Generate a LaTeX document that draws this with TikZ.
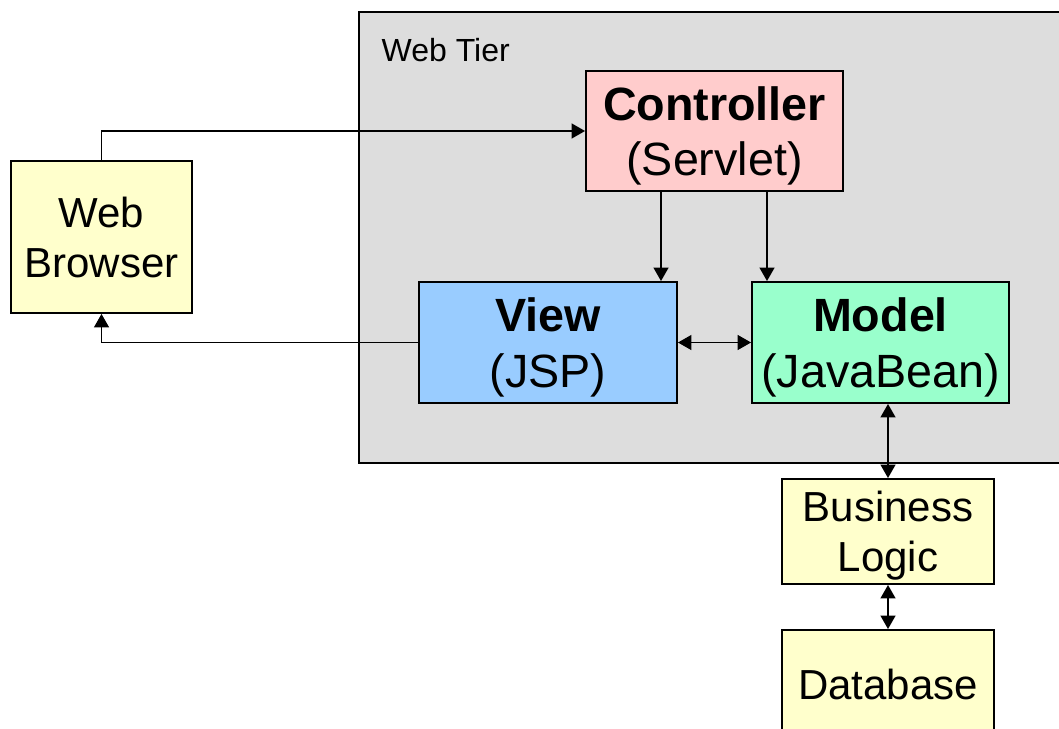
\documentclass[tikz,border=0pt]{standalone}
\usepackage{fontspec}
\setmainfont{Liberation Sans}
\usetikzlibrary{arrows.meta,calc}

\definecolor{tiergray}{HTML}{DDDDDD}
\definecolor{paleyellow}{HTML}{FFFFCC}
\definecolor{palepink}{HTML}{FFCCCC}
\definecolor{paleblue}{HTML}{99CCFF}
\definecolor{palegreen}{HTML}{99FFCC}

\begin{document}
\begin{tikzpicture}[
    x=0.75pt, y=-0.75pt,
    box/.style={draw, line width=1.4pt, inner sep=0pt, align=center, text depth=0pt},
    plain/.style={box, fill=paleyellow, font=\fontsize{31.5}{37.5}\selectfont},
    mvc/.style={box, font=\fontsize{35}{41.5}\selectfont},
    arr/.style={line width=1.4pt, -{Triangle[length=10pt,width=11pt]}},
    dbl/.style={line width=1.4pt, {Triangle[length=10pt,width=11pt]}-{Triangle[length=10pt,width=11pt]}}
    ]
    \clip (0,0) rectangle (1059,728);
    % web tier frame runs off the right edge
    \draw[line width=1.4pt, fill=tiergray] (359,12) rectangle (1080,463);
    \node [anchor=west, font=\fontsize{24}{28}\selectfont] (tiername) at (377,50) {Web Tier};

	\node [plain, minimum width=135.75pt, minimum height=114pt] (browser) at (101.5,237) {Web\\Browser};
	\node [mvc, fill=palepink, minimum width=192.75pt, minimum height=90pt] (ctrl) at (714.5,131) {\textbf{Controller}\\(Servlet)};
	\node [mvc, fill=paleblue, minimum width=193.5pt, minimum height=90.75pt] (view) at (548,342.5) {\textbf{View}\\(JSP)};
	\node [mvc, fill=palegreen, minimum width=192.75pt, minimum height=90.75pt] (model) at (880.5,342.5) {\textbf{Model}\\(JavaBean)};
	\node [plain, minimum width=159pt, minimum height=78.75pt] (logic) at (888,531.5) {Business\\Logic};
	\node [plain, minimum width=159pt, minimum height=81pt] (db) at (888,684) {Database};

    % requests and responses
	\draw [arr] (browser.north) |- (ctrl.west);
	\draw [arr] (view.west) -| (browser.south);
	\draw [arr] ($(ctrl.south)+(-53.5,0)$) coordinate (c1) -- (c1 |- view.north);
	\draw [arr] ($(ctrl.south)+(52.5,0)$) coordinate (c2) -- (c2 |- model.north);
	\draw [dbl] (view.east) -- (model.west);
	\draw [dbl] (logic.north |- model.south) -- (logic.north);
	\draw [dbl] (logic.south) -- (db.north);
  \end{tikzpicture}
\end{document}
